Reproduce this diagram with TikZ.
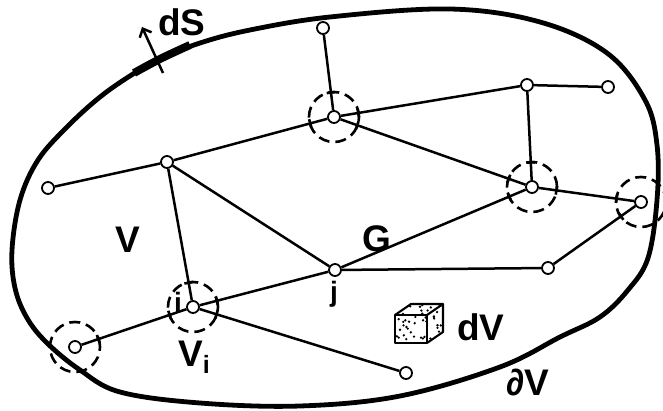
\documentclass[tikz,border=0pt]{standalone}
\usepackage{fontspec}
\setmainfont{Liberation Sans}
\usetikzlibrary{calc,arrows.meta}
\tikzset{
  vtx/.style={circle,draw,fill=white,line width=1.8pt,minimum size=12pt,inner sep=0pt},
  edge/.style={line width=2.5pt},
  dcirc/.style={line width=2.6pt,dash pattern=on 11pt off 6pt},
  bound/.style={line width=4.8pt},
  lbl/.style={font=\fontsize{37}{37}\selectfont\bfseries,inner sep=0pt},
  slbl/.style={font=\fontsize{28}{28}\selectfont\bfseries,inner sep=0pt},
}
\newcommand{\cuttick}[2]{\draw[line width=2.6pt] ($(#1)!25pt!-10:(#2)$) -- ($(#1)!25pt!10:(#2)$);}
\begin{document}
\begin{tikzpicture}[x=1pt,y=-1pt]
\useasboundingbox (0,0) rectangle (663,411);
% boundary
\draw[bound] plot[smooth cycle,tension=0.6] coordinates {
 (450,9) (540,22) (607,53) (645,100) (657,145) (657,200) (648,258) (628,290) (600,317) (560,337)
 (500,367) (400,396) (300,406) (200,403) (120,392) (80,370) (47,343) (27,318) (15,288) (12,250)
 (20,200) (38,160) (67,127) (100,97) (133,74) (160,59) (200,43) (250,30) (330,17)};
% dS element
\draw[line width=8pt] plot[smooth,tension=0.6] coordinates {(134,73) (160,59) (190,45)};
\coordinate (dsb) at (163,73);
\coordinate (dst) at (142,27);
\draw[line width=2.5pt,-{Straight Barb[length=7pt,width=13pt]}] (dsb) -- (dst);
\node[lbl] (ds) at (182,22) {dS};
% vertices
\node[vtx] (A) at (323,28) {};
\node[vtx] (B) at (334,117) {};
\node[vtx] (C) at (167,162) {};
\node[vtx] (D) at (48,188) {};
\node[vtx] (E) at (527,85) {};
\node[vtx] (F) at (608,87) {};
\node[vtx] (H) at (532,187) {};
\node[vtx] (I) at (641,202) {};
\node[vtx] (J) at (335,270) {};
\node[vtx] (K) at (548,268) {};
\node[vtx] (L) at (193,307) {};
\node[vtx] (M) at (75,347) {};
\node[vtx] (N) at (406,373) {};
% edges
\foreach \a/\b in {A/B, D/C, C/B, B/E, E/F, E/H, B/H, C/J, C/L, H/J, L/J, J/K, K/I, H/I, L/M, L/N}
  \draw[edge] (\a) -- (\b);
% dashed circles
\foreach \n in {B,H,I,L,M}
  \draw[dcirc] (\n) circle (25pt);
\cuttick{B}{A}\cuttick{B}{C}\cuttick{B}{E}\cuttick{B}{H}
\cuttick{H}{E}\cuttick{H}{B}\cuttick{H}{J}\cuttick{H}{I}
\cuttick{I}{H}\cuttick{I}{K}
\cuttick{L}{C}\cuttick{L}{J}\cuttick{L}{M}\cuttick{L}{N}
\cuttick{M}{L}
% labels
\node[lbl] (Vl) at (128,240) {V};
\node[lbl] (Gl) at (377,239) {G};
\node[slbl] (jl) at (334,294) {j};
\node[slbl] (il) at (178,302) {i};
\node[lbl,anchor=base west] (Vil) at (178,366) {V\raisebox{-7pt}{\fontsize{25}{25}\selectfont\bfseries i}};
\node[lbl] (dVl) at (481,327) {dV};
\node[lbl] (pVl) at (528,382) {∂V};
% cube
\coordinate (c1) at (395,315);
\coordinate (c2) at (427,315);
\coordinate (c3) at (427,343);
\coordinate (c4) at (395,343);
\coordinate (c5) at (411,304);
\coordinate (c6) at (443,304);
\coordinate (c7) at (443,332);
\draw[line width=2.1pt,line join=round,fill=white] (c1) -- (c2) -- (c3) -- (c4) -- cycle;
\draw[line width=2.1pt,line join=round] (c1) -- (c5) -- (c6) -- (c2) (c6) -- (c7) -- (c3);
\pgfmathsetseed{7}
\foreach \k in {1,...,22} {
  \pgfmathsetmacro{\u}{rnd}\pgfmathsetmacro{\v}{rnd}
  \fill ($(c4)!\u!(c3)+(0,-\v*26-1)$) circle (1.3pt);
}
\foreach \k in {1,...,9} {
  \pgfmathsetmacro{\u}{rnd}\pgfmathsetmacro{\v}{rnd}
  \fill ($(c2)+(\u*14+1,-\u*10)+(0,\v*24+2)$) circle (1.3pt);
}
\foreach \k in {1,...,8} {
  \pgfmathsetmacro{\u}{rnd}\pgfmathsetmacro{\v}{rnd}
  \fill ($(c1)+(\u*14+1,-\u*10)+(\v*26+2,-1)$) circle (1.3pt);
}
\end{tikzpicture}
\end{document}
